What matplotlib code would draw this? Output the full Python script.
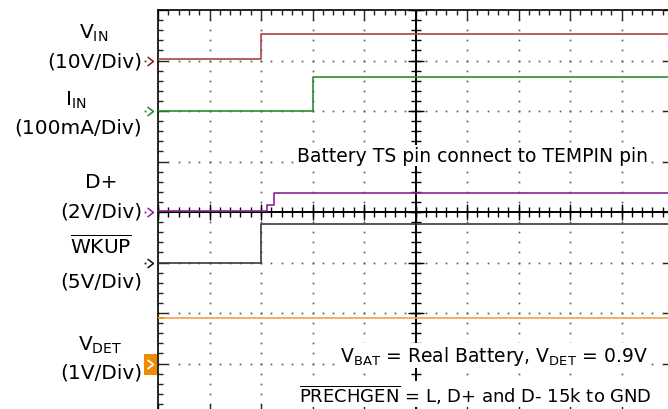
import numpy as np
import matplotlib
matplotlib.use('Agg')
import matplotlib.pyplot as plt
from matplotlib.path import Path
from matplotlib.patches import Rectangle

plt.rcParams['font.family'] = ['DejaVu Sans']
plt.rcParams['mathtext.fontset'] = 'dejavusans'

# 示波器数据（横轴单位：格）
vin_t = [0, 2.0, 2.0, 10]
vin_v = [0.3, 0.3, 5.2, 5.2]          # V, 10V/Div
iin_t = [0, 3.0, 3.0, 10]
iin_ma = [0, 0, 68, 68]               # mA, 100mA/Div
dp_t = [0, 2.12, 2.12, 2.25, 2.25, 10]
dp_v = [0.05, 0.05, 0.28, 0.28, 0.75, 0.75]   # V, 2V/Div
wkup_t = [0, 2.0, 2.0, 10]
wkup_v = [0, 0, 3.8, 3.8]             # V, 5V/Div
vdet_t = [0, 10]
vdet_v = [0.9, 0.9]                   # V, 1V/Div

# 通道: (时间, 数值, 每格, 零点偏移格数, 颜色)
channels = [
    (vin_t, vin_v, 10, 3, '#a94444'),
    (iin_t, iin_ma, 100, 2, '#2e8c2e'),
    (dp_t, dp_v, 2, 0, '#8b2394'),
    (wkup_t, wkup_v, 5, -1, '#3a3a3a'),
    (vdet_t, vdet_v, 1, -3, '#f5a04e'),
]
marker_colors = ['#8b1a1a', '#1f8a1f', '#8b1a94', '#111111']

W, H = 668, 410
fig = plt.figure(figsize=(W / 100, H / 100), dpi=100)
ax = fig.add_axes([158 / W, 1 - 415 / H, 515 / W, 404 / H])
ax.set_xlim(0, 10)
ax.set_ylim(-4, 4)

# 网格点
xs = np.arange(0, 10.001, 0.2)
ys = np.arange(-4, 4.001, 0.2)
for k in [1, 2, 3, 4, 6, 7, 8, 9]:
    ax.plot(np.full(len(ys), k), ys, ls='none', marker='s', ms=1.2, mew=0, color='#555555', zorder=1)
for j in [-3, -2, -1, 1, 2, 3]:
    ax.plot(xs, np.full(len(xs), j), ls='none', marker='s', ms=1.2, mew=0, color='#555555', zorder=1)

# 中心十字刻度
ax.axhline(0, color='black', lw=1.4, zorder=2)
ax.axvline(5, color='black', lw=1.4, zorder=2)
ax.plot(xs, np.zeros(len(xs)), ls='none', marker='|', ms=6.5, mew=1, color='black', zorder=2)
ax.plot(np.arange(11), np.zeros(11), ls='none', marker='|', ms=12, mew=1, color='black', zorder=2)
ax.plot(np.full(len(ys), 5), ys, ls='none', marker='_', ms=6.5, mew=1, color='black', zorder=2)
ax.plot(np.full(9, 5), np.arange(-4, 5), ls='none', marker='_', ms=12, mew=1, color='black', zorder=2)

# 波形
for i, (t, v, scale, off, c) in enumerate(channels):
    ax.plot(t, np.array(v) / scale + off, color=c, lw=1.2, zorder=3 + i)

# 通道标记
chev = Path([(-0.65, 1), (0.65, 0), (-0.65, -1)], [Path.MOVETO, Path.LINETO, Path.LINETO])
for (t, v, scale, off, c), mc in zip(channels[:4], marker_colors):
    ax.plot([-0.155], [off], marker=chev, ms=6.5, mew=1.1, mfc='none', mec=mc, clip_on=False)
    ax.plot([-0.26], [off], marker='s', ms=1.3, mew=0, color=mc, clip_on=False)
ax.add_patch(Rectangle((-0.272, -3.228), 0.253, 0.416, facecolor='#f08a00', edgecolor='none', clip_on=False))
ax.plot([-0.15], [-3.0], marker=chev, ms=6.5, mew=1.3, mfc='none', mec='white', clip_on=False, zorder=10)
# 触发电平标记
ax.plot([0.06], [-2.1], marker='_', ms=5, mew=1.2, color='#f08a00', clip_on=False, zorder=10)

ax.set_xticks(np.arange(11))
ax.set_yticks(np.arange(-4, 5))
ax.set_xticks(xs, minor=True)
ax.set_yticks(ys, minor=True)
ax.tick_params(which='both', direction='in', top=True, right=True, bottom=True, left=True,
               labelleft=False, labelbottom=False, color='#222222')
ax.tick_params(which='major', length=7.5, width=1)
ax.tick_params(which='minor', length=3.5, width=1)
for s in ax.spines.values():
    s.set_linewidth(1.2)
    s.set_color('black')

# 左侧标签
def ftext(x, y, s, ha, **kw):
    fig.text(x / W, 1 - y / H, s, ha=ha, va='center', fontsize=14.5, **kw)

ftext(93.5, 33, r'$\mathrm{V_{IN}}$', 'center')
ftext(142, 62, '(10V/Div)', 'right')
ftext(76, 100, r'$\mathrm{I_{IN}}$', 'center')
ftext(142, 128, '(100mA/Div)', 'right')
ftext(101, 183, 'D+', 'center')
ftext(142, 212, '(2V/Div)', 'right')
ftext(101, 246, r'$\overline{\mathrm{WKUP}}$', 'center')
ftext(142, 282, '(5V/Div)', 'right')
ftext(100.5, 345, r'$\mathrm{V_{DET}}$', 'center')
ftext(142, 373, '(1V/Div)', 'right')

box = dict(facecolor='white', edgecolor='none', pad=1)
fig.text(297 / W, 1 - 162 / H, 'Battery TS pin connect to TEMPIN pin', ha='left', va='baseline',
         fontsize=13.5, bbox=box)
fig.text(648 / W, 1 - 362 / H, r'$\mathrm{V_{BAT}}$ = Real Battery, $\mathrm{V_{DET}}$ = 0.9V',
         ha='right', va='baseline', fontsize=13.5, bbox=box)
fig.text(652 / W, 1 - 403 / H, r'$\overline{\mathrm{PRECHGEN}}$ = L, D+ and D- 15k to GND',
         ha='right', va='baseline', fontsize=13, bbox=box)

fig.savefig('out.png', dpi=100)
